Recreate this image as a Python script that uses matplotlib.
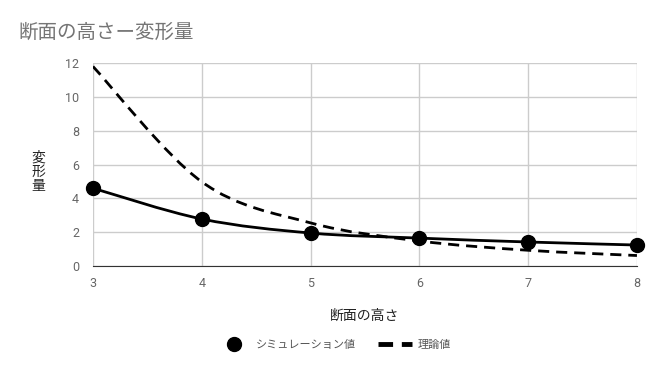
import matplotlib
matplotlib.use("Agg")
import matplotlib.pyplot as plt
from matplotlib.path import Path
from matplotlib.patches import PathPatch
from matplotlib.lines import Line2D
import numpy as np

plt.rcParams['font.family'] = ['Noto Sans CJK JP', 'DejaVu Sans']

heights = [3, 4, 5, 6, 7, 8]
sim_vals = [4.6, 2.78, 1.95, 1.65, 1.42, 1.24]
theory_vals = [11.8, 4.98, 2.55, 1.48, 0.93, 0.62]
yticks = [0, 2, 4, 6, 8, 10, 12]


def smooth_path(xs, ys):
    # catmull-rom -> cubic bezier, like the "function" curve in the original chart
    pts = np.column_stack([xs, ys]).astype(float)
    verts = [pts[0]]
    codes = [Path.MOVETO]
    n = len(pts)
    for i in range(n - 1):
        p0 = pts[i - 1] if i > 0 else pts[i]
        p1 = pts[i]
        p2 = pts[i + 1]
        p3 = pts[i + 2] if i + 2 < n else pts[i + 1]
        c1 = p1 + (p2 - p0) / 6.0
        c2 = p2 - (p3 - p1) / 6.0
        verts += [c1, c2, p2]
        codes += [Path.CURVE4] * 3
    return Path(verts, codes)


fig = plt.figure(figsize=(6.65, 3.71), dpi=100)
ax = fig.add_axes([0.1398, 0.283, 0.818, 0.547])

ax.add_patch(PathPatch(smooth_path(heights, theory_vals), fill=False,
                       edgecolor='black', lw=2, ls=(0, (4, 2.5)), zorder=3))
ax.add_patch(PathPatch(smooth_path(heights, sim_vals), fill=False,
                       edgecolor='black', lw=2, zorder=4))
ax.plot(heights, sim_vals, 'o', color='black', ms=10, zorder=5, clip_on=False)

ax.set_xlim(3, 8)
ax.set_ylim(0, 12)
ax.set_xticks(heights)
ax.set_yticks(yticks)
ax.grid(True, color='#cccccc', lw=1)
ax.set_axisbelow(True)
for s in ['top', 'right', 'left']:
    ax.spines[s].set_visible(False)
ax.spines['bottom'].set_color('#333333')
ax.tick_params(length=0, colors='#666666', labelsize=9)
ax.tick_params(axis='x', pad=8)
ax.tick_params(axis='y', pad=10)
for lab in ax.get_xticklabels() + ax.get_yticklabels():
    lab.set_fontfamily('Roboto')

fig.text(18 / 665, 1 - 32 / 371, '断面の高さー変形量', fontsize=14, color='#757575',
         va='center', ha='left')
fig.text(38 / 665, 1 - 172 / 371, '変\n形\n量', fontsize=10, color='#222222',
         va='center', ha='center', linespacing=1.0)
fig.text(365 / 665, 1 - 316 / 371, '断面の高さ', fontsize=10, color='#222222',
         va='center', ha='center')

handles = [Line2D([], [], marker='o', color='black', ls='none', ms=10),
           Line2D([], [], color='black', lw=3.5, dashes=[3, 1.8])]
leg = fig.legend(handles, ['シミュレーション値', '理論値'], loc='center',
                 bbox_to_anchor=(334 / 665, 1 - 345 / 371), ncol=2, frameon=False,
                 fontsize=8, handlelength=3, columnspacing=2, handletextpad=0.5)
for t in leg.get_texts():
    t.set_color('#555555')

fig.savefig('out.png', dpi=100)
